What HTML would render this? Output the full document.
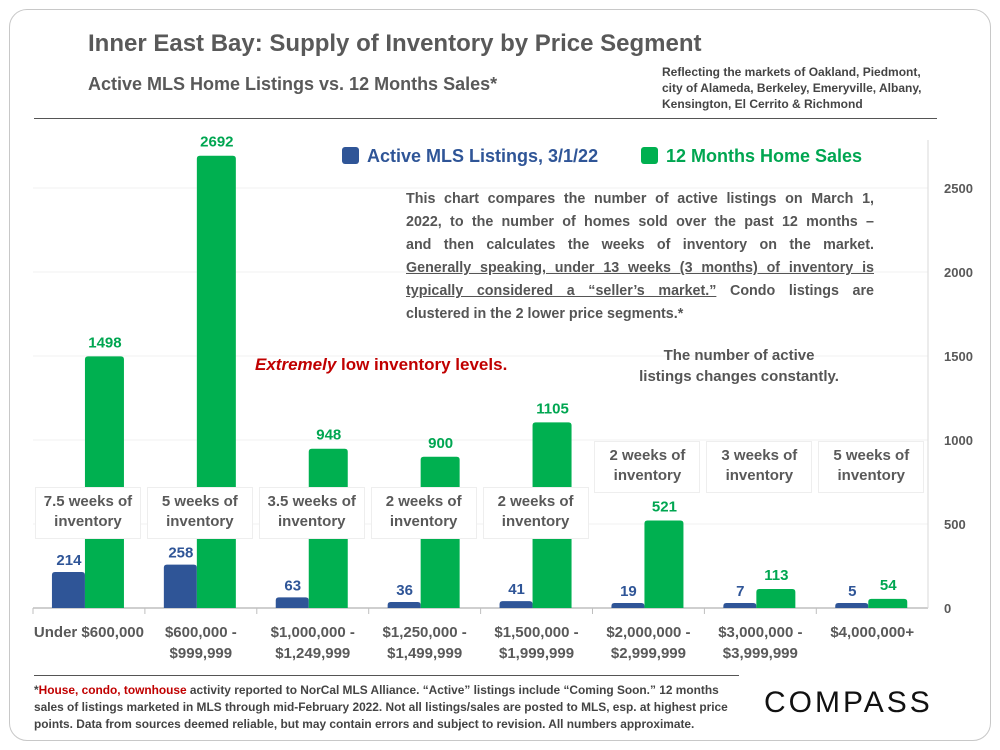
<!DOCTYPE html>
<html><head><meta charset="utf-8"><style>
body{margin:0;width:1000px;height:750px;background:#fff;font-family:"Liberation Sans",sans-serif;overflow:hidden;position:relative}
.card{position:absolute;left:9px;top:9px;width:980px;height:730px;border:1.5px solid #c8c8c8;border-radius:18px}
.t{position:absolute;color:#595959;font-weight:bold;white-space:nowrap}
.box{position:absolute;background:#fff;border:1px solid #eee;color:#595959;font-weight:bold;font-size:15px;text-align:center;line-height:20px;padding-top:4px;box-sizing:border-box}
.jl{text-align:justify;text-align-last:justify;white-space:normal}
</style></head><body>
<div class="card"></div>
<div class="t" style="left:88px;top:30px;font-size:24px">Inner East Bay: Supply of Inventory by Price Segment</div>
<div class="t" style="left:88px;top:74px;font-size:18px">Active MLS Home Listings vs. 12 Months Sales*</div>
<div class="t" style="left:662px;top:64px;font-size:12px;line-height:16px;color:#444">Reflecting the markets of Oakland, Piedmont,<br>city of Alameda, Berkeley, Emeryville, Albany,<br>Kensington, El Cerrito &amp; Richmond</div>
<div style="position:absolute;left:34px;top:118px;width:903px;height:1px;background:#555"></div>
<svg id="chart" width="1000" height="750" style="position:absolute;left:0;top:0"></svg>
<div class="t" style="left:342px;top:146px;font-size:18px;color:#2f5597"><span style="display:inline-block;width:17px;height:17px;background:#2f5597;border-radius:3px;vertical-align:-2px;margin-right:8px"></span>Active MLS Listings, 3/1/22</div>
<div class="t" style="left:641px;top:146px;font-size:18px;color:#00a651"><span style="display:inline-block;width:17px;height:17px;background:#00b050;border-radius:3px;vertical-align:-2px;margin-right:8px"></span>12 Months Home Sales</div>
<div class="t" style="left:406px;top:188px;width:468px;font-size:14.3px;line-height:23px;white-space:normal;color:#555">
<div class="jl">This chart compares the number of active listings on March 1,</div>
<div class="jl">2022, to the number of homes sold over the past 12 months –</div>
<div class="jl">and then calculates the weeks of inventory on the market.</div>
<div class="jl"><u>Generally speaking, under 13 weeks (3 months) of inventory is</u></div>
<div class="jl"><u>typically considered a “seller’s market.”</u> Condo listings are</div>
<div>clustered in the 2 lower price segments.*</div>
</div>
<div class="t" style="left:255px;top:355px;font-size:17px;color:#c00000"><i>Extremely</i> low inventory levels.</div>
<div class="t" style="left:630px;top:345px;width:218px;text-align:center;font-size:15px;line-height:21px;color:#555">The number of active<br>listings changes constantly.</div>
<div style="position:absolute;left:34px;top:675px;width:705px;height:1px;background:#555"></div>
<div class="t" style="left:34px;top:682px;width:710px;font-size:11.9px;line-height:17px;white-space:normal;color:#444">*<span style="color:#c00000">House, condo, townhouse</span> activity reported to NorCal MLS Alliance. “Active” listings include “Coming Soon.” 12 months sales of listings marketed in MLS through mid-February 2022. Not all listings/sales are posted to MLS, esp. at highest price points. Data from sources deemed reliable, but may contain errors and subject to revision.  All numbers approximate.</div>
<div style="position:absolute;left:764px;top:686px;font-size:30px;letter-spacing:3px;color:#111;font-family:'Liberation Sans',sans-serif">COMPASS</div>
<script>
const categories=[["Under $600,000"],["$600,000 -","$999,999"],["$1,000,000 -","$1,249,999"],["$1,250,000 -","$1,499,999"],["$1,500,000 -","$1,999,999"],["$2,000,000 -","$2,999,999"],["$3,000,000 -","$3,999,999"],["$4,000,000+"]];
const activeListings=[214,258,63,36,41,19,7,5];
const homeSales=[1498,2692,948,900,1105,521,113,54];
const weeksLabels=["7.5 weeks of","5 weeks of","3.5 weeks of","2 weeks of","2 weeks of","2 weeks of","3 weeks of","5 weeks of"];
const yTicks=[0,500,1000,1500,2000,2500];
const NS="http://www.w3.org/2000/svg";
const svg=document.getElementById('chart');
const x0=33,cw=111.9,yBase=608,k=420/2500;
const y=v=>yBase-v*k;
const xc=i=>x0+cw*i+cw/2;
function mk(t,a){const e=document.createElementNS(NS,t);for(const p in a)e.setAttribute(p,a[p]);svg.appendChild(e);return e;}
yTicks.forEach(v=>{
 if(v>0){const g=mk('line',{x1:x0,x2:928,y1:y(v),y2:y(v),stroke:'#f2f2f2'});}
 const t=mk('text',{x:944,y:y(v)+5,'font-size':13,fill:'#595959','font-weight':'bold'});t.textContent=v;
 
});
const ax=mk('line',{x1:x0,x2:928,y1:yBase,y2:yBase,stroke:'#bfbfbf','stroke-width':1.5});

const ay=mk('line',{x1:928,x2:928,y1:140,y2:yBase,stroke:'#d9d9d9'});

function bar(x,w,v,col,name){const h=Math.max(v*k,5),r=3;
 const p=mk('path',{d:`M${x},${yBase}V${yBase-h+r}Q${x},${yBase-h} ${x+r},${yBase-h}H${x+w-r}Q${x+w},${yBase-h} ${x+w},${yBase-h+r}V${yBase}Z`,fill:col});
 return yBase-h;}
categories.forEach((c,i)=>{
 const cx=xc(i);
 const tk=mk('line',{x1:x0+cw*i,x2:x0+cw*i,y1:yBase,y2:yBase+6,stroke:'#bfbfbf'});
 
 const tb=bar(cx-37,33,activeListings[i],'#2f5597','bar-active');
 const tg=bar(cx-4,39,homeSales[i],'#00b050','bar-sales');
 const la=mk('text',{x:cx-20,y:tb-7,'text-anchor':'middle','font-size':15,'font-weight':'bold',fill:'#2f5597'});la.textContent=activeListings[i];
 
 const lg=mk('text',{x:cx+16,y:tg-9,'text-anchor':'middle','font-size':15,'font-weight':'bold',fill:'#00a651'});lg.textContent=homeSales[i];
 
 c.forEach((s,j)=>{const t=mk('text',{x:cx,y:637+j*21,'text-anchor':'middle','font-size':15,'font-weight':'bold',fill:'#595959'});t.textContent=s;
  });
 const b=document.createElement('div');b.className='box';
 
 
 const top=i<5?487:441;
 b.style.cssText=`left:${cx-54}px;top:${top}px;width:106px;height:52px`;
 b.innerHTML=weeksLabels[i]+'<br>inventory';document.body.appendChild(b);
});
</script>
</body></html>
